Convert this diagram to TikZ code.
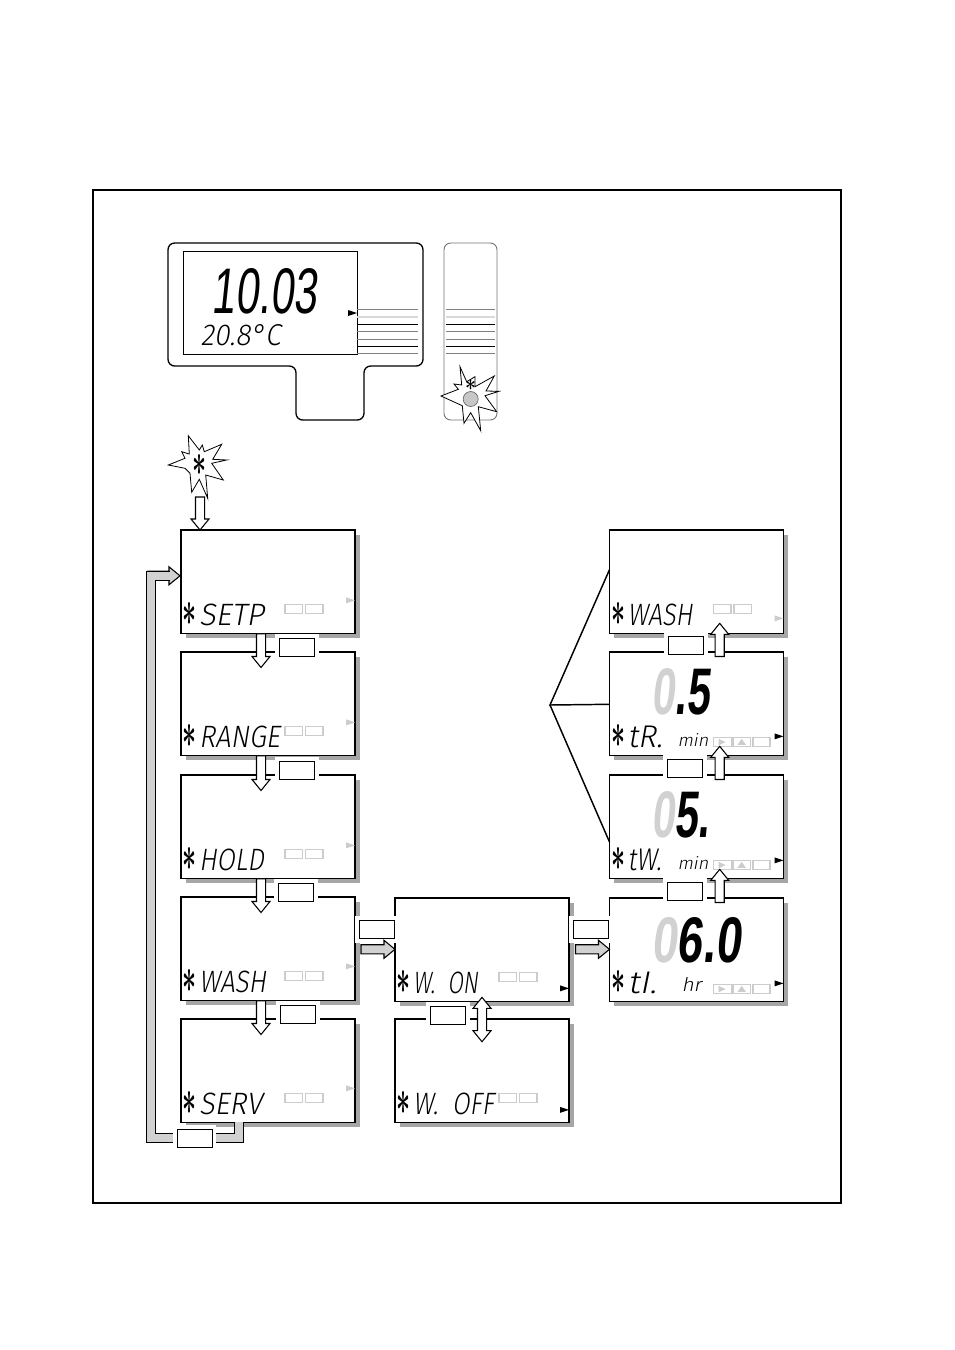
\documentclass[tikz,border=0pt]{standalone}
\usepackage{fontspec}
\usepackage{graphicx}
\usetikzlibrary{calc,shadows}
\newfontfamily\lcdfont[FakeSlant=0.18]{Fira Sans Light}
\newfontfamily\bigfont[FakeSlant=0.16]{Liberation Sans}
\newfontfamily\valuefont[FakeSlant=0.16]{Liberation Sans Bold}
\newdimen\pxu \pxu=0.75pt
\newcommand{\lcdword}[3]{\resizebox{#1\pxu}{#2\pxu}{\lcdfont #3}}
\newcommand{\lcdbig}[3]{\resizebox{#1\pxu}{#2\pxu}{\bigfont #3}}
\newcommand{\lcdvalue}[3]{\resizebox{#1\pxu}{#2\pxu}{\valuefont #3}}
\newcommand{\lcdstar}[2]{\resizebox{#1\pxu}{#2\pxu}{\boldmath$\ast$}}
\tikzset{
  screen/.style={draw,fill=white,line width=0.8pt,anchor=north west,inner sep=0pt,outer sep=0pt,
    minimum width=130.5pt,minimum height=77.5pt,
    drop shadow={shadow xshift=3.4pt,shadow yshift=-3.4pt,fill=black!35,opacity=1}},
  keybox/.style={draw,fill=white,line width=0.7pt,inner sep=0pt,minimum width=26.25pt,minimum height=13.5pt,
    preaction={draw=white,line width=6.5pt}},
  lcd/.style={anchor=base west,inner sep=0pt,outer sep=0pt},
  blockarrow/.style={draw,line width=0.8pt,line join=miter,to path={
    let \p3=($(\tikztotarget)!8.25pt!(\tikztostart)$) in
    -- ($(\tikztostart)!3.4pt!90:(\tikztotarget)$) -- ($(\p3)!3.4pt!90:(\tikztotarget)$)
    -- ($(\p3)!6.75pt!90:(\tikztotarget)$) -- (\tikztotarget)
    -- ($(\p3)!6.75pt!-90:(\tikztotarget)$) -- ($(\p3)!3.4pt!-90:(\tikztotarget)$)
    -- ($(\tikztostart)!3.4pt!-90:(\tikztotarget)$) -- cycle}},
  bothways/.style={draw,fill=white,line width=0.8pt,to path={
    let \p3=($(\tikztotarget)!8.25pt!(\tikztostart)$), \p4=($(\tikztostart)!8.25pt!(\tikztotarget)$) in
    -- ($(\p4)!6.75pt!-90:(\tikztotarget)$) -- ($(\p4)!3.4pt!-90:(\tikztotarget)$)
    -- ($(\p3)!3.4pt!90:(\tikztostart)$) -- ($(\p3)!6.75pt!90:(\tikztostart)$) -- (\tikztotarget)
    -- ($(\p3)!6.75pt!-90:(\tikztostart)$) -- ($(\p3)!3.4pt!-90:(\tikztostart)$)
    -- ($(\p4)!3.4pt!90:(\tikztotarget)$) -- ($(\p4)!6.75pt!90:(\tikztotarget)$) -- cycle}},
  barline/.style={draw=black!18,line width=5.6pt,line join=miter,preaction={draw=black,line width=7.2pt}},
  burst/.style={draw,fill=white,line width=0.6pt,line join=miter},
  dimgray/.style={draw=black!20,line width=0.8pt}
}
\begin{document}
\begin{tikzpicture}[x=0.75pt,y=-0.75pt]
  \useasboundingbox (0,0) rectangle (954,1350);
  \draw[line width=1.5pt] (93,190) rectangle (841,1203);
  % meter
  \draw[line width=1pt,rounded corners=5pt] (168,243) -- (423,243) -- (423,366) -- (364,366) -- (364,420) -- (296,420) -- (296,366) -- (168,366) -- cycle;
  \draw[line width=0.6pt] (183,251) rectangle (357,354);
  \draw[black!55,line width=0.7pt,rounded corners=5pt] (444,243) rectangle (497,420);
  \foreach \xa/\xb in {357/418,446/495} {
    \draw[black!50,line width=0.5pt] (\xa,309.3) -- (\xb,309.3);
    \draw[black!15,line width=1.3pt] (\xa,316.7) -- (\xb,316.7);
    \draw[line width=0.5pt] (\xa,324.3) -- (\xb,324.3);
    \draw[black!50,line width=0.5pt] (\xa,331.3) -- (\xb,331.3);
    \draw[black!50,line width=0.6pt] (\xa,339) -- (\xb,339);
    \draw[line width=0.5pt] (\xa,346.3) -- (\xb,346.3);
    \draw[black!50,line width=0.5pt] (\xa,353.3) -- (\xb,353.3);
  }
  \fill (348,310) -- (357,313) -- (348,316) -- cycle;
  \node[lcd] (phvalue) at (211.7,313) {\lcdbig{105}{45}{10.03}};
  \node[lcd] (tempvalue) at (200.7,345.7) {\lcdword{80}{21}{20.8°C}};
  % flashing key on the panel
  \draw[burst] (460,366.7) -- (466.7,381.7) -- (475,376.7) -- (475,386.7) -- (494.3,376) -- (486,391) -- (499,391.3) -- (485,395.7) -- (496.7,411.7) -- (478.3,406.7) -- (480.7,430.7) -- (470.7,412.7) -- (464,423.3) -- (462.3,405.7) -- (441,396) -- (458.3,389.3) -- (454,384) -- (461.7,385) -- cycle;
  \filldraw[fill=black!22,draw=black!60,line width=0.5pt] (470.7,399) circle (7.5);
  \node[lcd] (panelstar) at (465.2,390) {\lcdstar{11}{11}};
  % flashing star
  \draw[burst] (188.3,435.7) -- (199.3,450) -- (202.3,445) -- (204.3,451.7) -- (221.7,444.3) -- (212.7,459.3) -- (226.7,460) -- (211.7,463.3) -- (223.3,480) -- (205.7,475) -- (207.7,498.3) -- (199.3,479.3) -- (191.7,492.3) -- (190,473.3) -- (185,468.3) -- (168.3,465) -- (185,458.3) -- (181.7,451.7) -- (189.3,454) -- cycle;
  \node[lcd] (flashstar) at (192,475) {\lcdstar{14}{21}};
  % screens
  \foreach \name/\x/\y in {setp/181/530,range/181/652,hold/181/775,wash/181/897,serv/181/1019,won/395/898,woff/395/1019,washr/609.5/530,tr/609.5/652,tw/609.5/775,ti/609.5/898}
    \node[screen] (\name) at (\x,\y) {};
  % lower lines of the screens
  \foreach \name/\wordw/\word in {setp/65/SETP,range/81/RANGE,hold/65/HOLD,wash/67/WASH,serv/63/SERV,won/65/{W.\ \ ON},woff/81/{W.\ \ OFF},washr/65/WASH,tr/35/tR.,tw/34/tW.,ti/29/tI.} {
    \node[lcd] (\name star) at ($(\name.south west)+(1.5,-8)$) {\lcdstar{14}{23}};
    \node[lcd] (\name word) at ($(\name.south west)+(18,-8)$) {\lcdword{\wordw}{21.5}{\word}};
  }
  \node[lcd] (trunit) at ($(tr.south west)+(68,-8.5)$) {\lcdword{31}{13}{min}};
  \node[lcd] (twunit) at ($(tw.south west)+(68,-8.5)$) {\lcdword{31}{13}{min}};
  \node[lcd] (tiunit) at ($(ti.south west)+(72,-9.5)$) {\lcdword{20}{14}{hr}};
  % big digits
  \node[lcd] (trvalue) at ($(tr.south west)+(42,-41)$) {\lcdvalue{58}{46}{\textcolor{black!18}{0}.5}};
  \node[lcd] (twvalue) at ($(tw.south west)+(42,-41)$) {\lcdvalue{58}{46}{\textcolor{black!18}{0}5.}};
  \node[lcd] (tivalue) at ($(ti.south west)+(42,-39)$) {\lcdvalue{89}{45}{\textcolor{black!18}{0}6.0}};
  % two-cell and three-cell indicators
  \foreach \name in {setp,range,hold,wash,serv,won,woff,washr} {
    \draw[dimgray] ($(\name.south west)+(104,-29)$) rectangle ($(\name.south west)+(121.5,-19.5)$);
    \draw[dimgray] ($(\name.south west)+(124.5,-29)$) rectangle ($(\name.south west)+(142,-19.5)$);
  }
  \foreach \name/\dy in {tr/-18,tw/-18,ti/-17} {
    \draw[dimgray] ($(\name.south west)+(104,\dy)$) rectangle ($(\name.south west)+(122,\dy+9.5)$);
    \draw[dimgray] ($(\name.south west)+(123.5,\dy)$) rectangle ($(\name.south west)+(141,\dy+9.5)$);
    \draw[dimgray] ($(\name.south west)+(143.5,\dy)$) rectangle ($(\name.south west)+(160.5,\dy+9.5)$);
    \fill[black!20] ($(\name.south west)+(109,\dy+1.5)$) -- ($(\name.south west)+(116,\dy+4.7)$) -- ($(\name.south west)+(109,\dy+8)$) -- cycle;
    \fill[black!20] ($(\name.south west)+(128,\dy+7.5)$) -- ($(\name.south west)+(132.2,\dy+1.5)$) -- ($(\name.south west)+(136.4,\dy+7.5)$) -- cycle;
  }
  % markers at the right edge
  \foreach \name/\dy/\tone in {setp/-33/black!20,range/-33/black!20,hold/-33/black!20,wash/-34/black!20,serv/-34/black!20,washr/-15/black!20,won/-13/black,woff/-12.5/black,tr/-19/black,tw/-18/black,ti/-18/black}
    \fill[\tone] ($(\name.south east)+(-9,\dy-3)$) -- ($(\name.south east)+(0,\dy)$) -- ($(\name.south east)+(-9,\dy+3)$) -- cycle;
  % the frame arrows
  \draw[blockarrow,fill=black!18] (148,575.8) to ($(setp.north west)+(-1,45.8)$);
  \coordinate (backstart) at ($(serv.south west)+(57.8,0)$);
  \coordinate (backturn) at (151,1138);
  \coordinate (backend) at ($(setp.north west)+(-11,45.8)$);
  \draw[barline] (backstart) |- (backturn) |- (backend);
  \foreach \name/\nxt in {setp/range,range/hold,hold/wash,wash/serv}
    \draw[blockarrow,fill=white] ($(\name.south west)+(80,0.5)$) to ($(\nxt.north west)+(80,15.5)$);
  \coordinate (flashout) at (200,497);
  \draw[blockarrow,fill=white] (flashout) to ($(setp.north west)+(19,0)$);
  \foreach \name/\nxt/\gap in {tr/washr/-10,tw/tr/-9,ti/tw/-9}
    \draw[blockarrow,fill=white] ($(\name.north west)+(110.2,4.5)$) to ($(\nxt.south west)+(110.2,\gap)$);
  % keys
  \node[keybox] (setpkey) at (297,647.5) {};
  \node[keybox] (rangekey) at (297,770) {};
  \node[keybox] (holdkey) at (296,892) {};
  \node[keybox] (washkey) at (298,1014) {};
  \node[keybox] (servkey) at (194.5,1138.7) {};
  \node[keybox] (wonkey) at (377,929.5) {};
  \node[keybox] (tikey) at (591,929.5) {};
  \node[keybox] (woffkey) at (448,1015) {};
  \node[keybox] (washrkey) at (686,645.5) {};
  \node[keybox] (trkey) at (685,768) {};
  \node[keybox] (twkey) at (685,891) {};
  \draw[blockarrow,fill=black!18] ($(won.north west)+(-34,51.3)$) to ($(won.north west)+(0,51.3)$);
  \draw[blockarrow,fill=black!18] ($(ti.north west)+(-34,51.3)$) to ($(ti.north west)+(0,51.3)$);
  \draw[bothways] ($(won.south west)+(87,-4)$) to ($(woff.north west)+(87,22.7)$);
  % fan of lines
  \coordinate (fan) at (550,705);
  \draw[line width=1.1pt] ($(washr.south west)+(0,-63.7)$) -- (fan) -- ($(tr.north west)+(0,52.3)$);
  \draw[line width=1.1pt] (fan) -- ($(tw.north west)+(0,67)$);
\end{tikzpicture}
\end{document}
